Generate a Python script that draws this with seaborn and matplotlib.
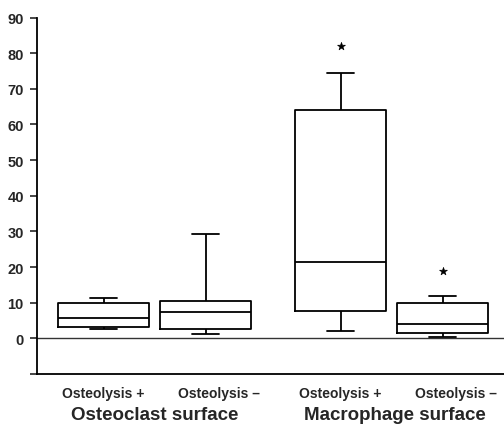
import numpy as np
import pandas as pd
import seaborn as sns
import matplotlib.pyplot as plt
from matplotlib.transforms import ScaledTranslation

# five-number summaries (whisker low, Q1, median, Q3, whisker high)
groups = ["Osteoclast surface", "Osteoclast surface",
          "Macrophage surface", "Macrophage surface"]
tick_labels = ["Osteolysis +", "Osteolysis \u2013", "Osteolysis +", "Osteolysis \u2013"]
whisker_low = [2.7, 1.1, 2.1, 0.3]
q1 = [3.2, 2.5, 7.7, 1.6]
median = [5.8, 7.4, 21.4, 4.1]
q3 = [9.8, 10.5, 64.1, 9.8]
whisker_high = [11.4, 29.4, 74.5, 11.9]
outlier_box = [2, 3]
outlier_value = [82.1, 18.8]

# layout: two groups, boxes 1 apart inside a group, groups further apart
GROUP_STEP = 2.324
pos = [(i // 2) * GROUP_STEP + (i % 2) for i in range(len(tick_labels))]

rows = []
for i in range(len(tick_labels)):
    for v in (whisker_low[i], q1[i], median[i], q3[i], whisker_high[i]):
        rows.append({"pos": pos[i], "value": v})
df = pd.DataFrame(rows)
out = pd.DataFrame({"pos": [pos[i] for i in outlier_box], "value": outlier_value})

sns.set_style("white")
plt.rcParams["font.family"] = ["Liberation Sans", "DejaVu Sans"]

fig = plt.figure(figsize=(5.04, 4.27), dpi=100)
ax = fig.add_axes([37 / 504, 1 - 375 / 427, 1 - 37 / 504, (375 - 18.5) / 427])

sns.boxplot(data=df, x="pos", y="value", native_scale=True, whis=(0, 100),
            width=0.89, fill=False, color="black", linewidth=1.3,
            capwidths=0.27, ax=ax)
sns.scatterplot(data=out, x="pos", y="value", marker="*", s=35,
                color="black", edgecolor="black", ax=ax, zorder=3)

ax.axhline(0, color="#333333", lw=1.0, zorder=0)

ax.set_ylim(-10, 90)
ax.set_xlim(-0.652, 3.926)
ax.set_yticks(np.arange(-10, 91, 10))
ax.set_yticklabels([""] + [str(v) for v in range(0, 91, 10)])
ax.tick_params(axis="y", length=5, width=1.2, pad=4.5, direction="out",
               labelsize=10.5, left=True)
for lab in ax.get_yticklabels():
    lab.set_fontweight("bold")

ax.set_xticks(pos)
ax.set_xticklabels(tick_labels, fontsize=10, fontweight="bold")
ax.tick_params(axis="x", length=0, pad=9)
# the "–" labels sit a little right of their box in the original
for i, lab in enumerate(ax.get_xticklabels()):
    if i % 2 == 1:
        lab.set_transform(lab.get_transform() + ScaledTranslation(0.13, 0, fig.dpi_scale_trans))

for g in range(2):
    cx = (pos[2 * g] + pos[2 * g + 1]) / 2
    ax.text(cx + 0.03 * g, -0.113, groups[2 * g], transform=ax.get_xaxis_transform(),
            ha="center", va="center", fontsize=13.5, fontweight="bold")

ax.set_xlabel("")
ax.set_ylabel("")
sns.despine(ax=ax, top=True, right=True)
ax.spines["left"].set_linewidth(1.3)
ax.spines["bottom"].set_linewidth(1.3)
ax.spines["left"].set_color("black")
ax.spines["bottom"].set_color("black")

fig.savefig("out.png", dpi=100)
